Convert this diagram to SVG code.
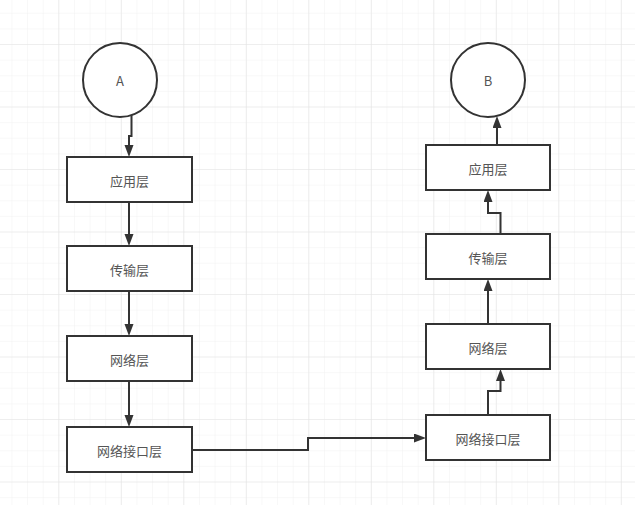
<svg xmlns="http://www.w3.org/2000/svg" width="635" height="505" viewBox="0 0 635 505">
  <defs>
    <!-- background grid: fine cells with a heavier line every 4 cells -->
    <pattern id="gridMinor" x="-3.2" y="-1.875" width="15.625" height="15.625" patternUnits="userSpaceOnUse">
      <path d="M15.625 0 V15.625 M0 15.625 H15.625" fill="none" stroke="#f1f1f1" stroke-width="1"/>
    </pattern>
    <pattern id="gridMajor" x="-3.2" y="-17.5" width="62.5" height="62.5" patternUnits="userSpaceOnUse">
      <path d="M62.5 0 V62.5 M0 62.5 H62.5" fill="none" stroke="#e4e4e4" stroke-width="1.2"/>
    </pattern>
    <marker id="arrow" markerUnits="userSpaceOnUse" markerWidth="14" markerHeight="10" refX="2" refY="4.5" orient="auto">
      <path d="M0,0 L12,4.5 L0,9 z" fill="#333"/>
    </marker>
    <style>
      .box { fill: #fff; stroke: #333; stroke-width: 2; }
      .ring { fill: #fff; stroke: #333; stroke-width: 2; }
      .label { font-family: "Noto Sans CJK SC", "Liberation Sans", sans-serif; font-size: 13px; fill: #555; text-anchor: middle; dominant-baseline: central; }
      .edge { fill: none; stroke: #333; stroke-width: 2; marker-end: url(#arrow); }
    </style>
  </defs>

  <rect width="635" height="505" fill="#fff"/>
  <rect width="635" height="505" fill="url(#gridMinor)"/>
  <rect width="635" height="505" fill="url(#gridMajor)"/>

  <!-- connectors -->
  <g id="edges">
    <path class="edge" d="M131.5,115 V136 H129 V147"/>
    <path class="edge" d="M129,202 V236"/>
    <path class="edge" d="M129,291 V326"/>
    <path class="edge" d="M129,381 V417"/>
    <path class="edge" d="M192,450 H308 V438 H416"/>
    <path class="edge" d="M488,415 V391 H500.5 V379"/>
    <path class="edge" d="M488,324 V289"/>
    <path class="edge" d="M500.5,234 V213 H488 V200"/>
    <path class="edge" d="M497,145 V126"/>
  </g>

  <!-- sending side -->
  <g id="hostA">
    <circle class="ring" cx="120" cy="80" r="37"/>
    <text class="label" x="120" y="80" font-size="12">A</text>
  </g>
  <g id="appA">
    <rect class="box" x="67" y="157" width="125" height="45"/>
    <text class="label" x="129.5" y="180">应用层</text>
  </g>
  <g id="transA">
    <rect class="box" x="67" y="246" width="125" height="45"/>
    <text class="label" x="129.5" y="269">传输层</text>
  </g>
  <g id="netA">
    <rect class="box" x="67" y="336" width="125" height="45"/>
    <text class="label" x="129.5" y="359">网络层</text>
  </g>
  <g id="linkA">
    <rect class="box" x="67" y="427" width="125" height="45"/>
    <text class="label" x="129.5" y="450">网络接口层</text>
  </g>

  <!-- receiving side -->
  <g id="hostB">
    <circle class="ring" cx="488" cy="80" r="37"/>
    <text class="label" x="488" y="80" font-size="12">B</text>
  </g>
  <g id="appB">
    <rect class="box" x="426" y="145" width="124" height="45"/>
    <text class="label" x="488" y="168">应用层</text>
  </g>
  <g id="transB">
    <rect class="box" x="426" y="234" width="124" height="45"/>
    <text class="label" x="488" y="257">传输层</text>
  </g>
  <g id="netB">
    <rect class="box" x="426" y="324" width="124" height="45"/>
    <text class="label" x="488" y="347">网络层</text>
  </g>
  <g id="linkB">
    <rect class="box" x="426" y="415" width="124" height="45"/>
    <text class="label" x="488" y="438">网络接口层</text>
  </g>
</svg>
